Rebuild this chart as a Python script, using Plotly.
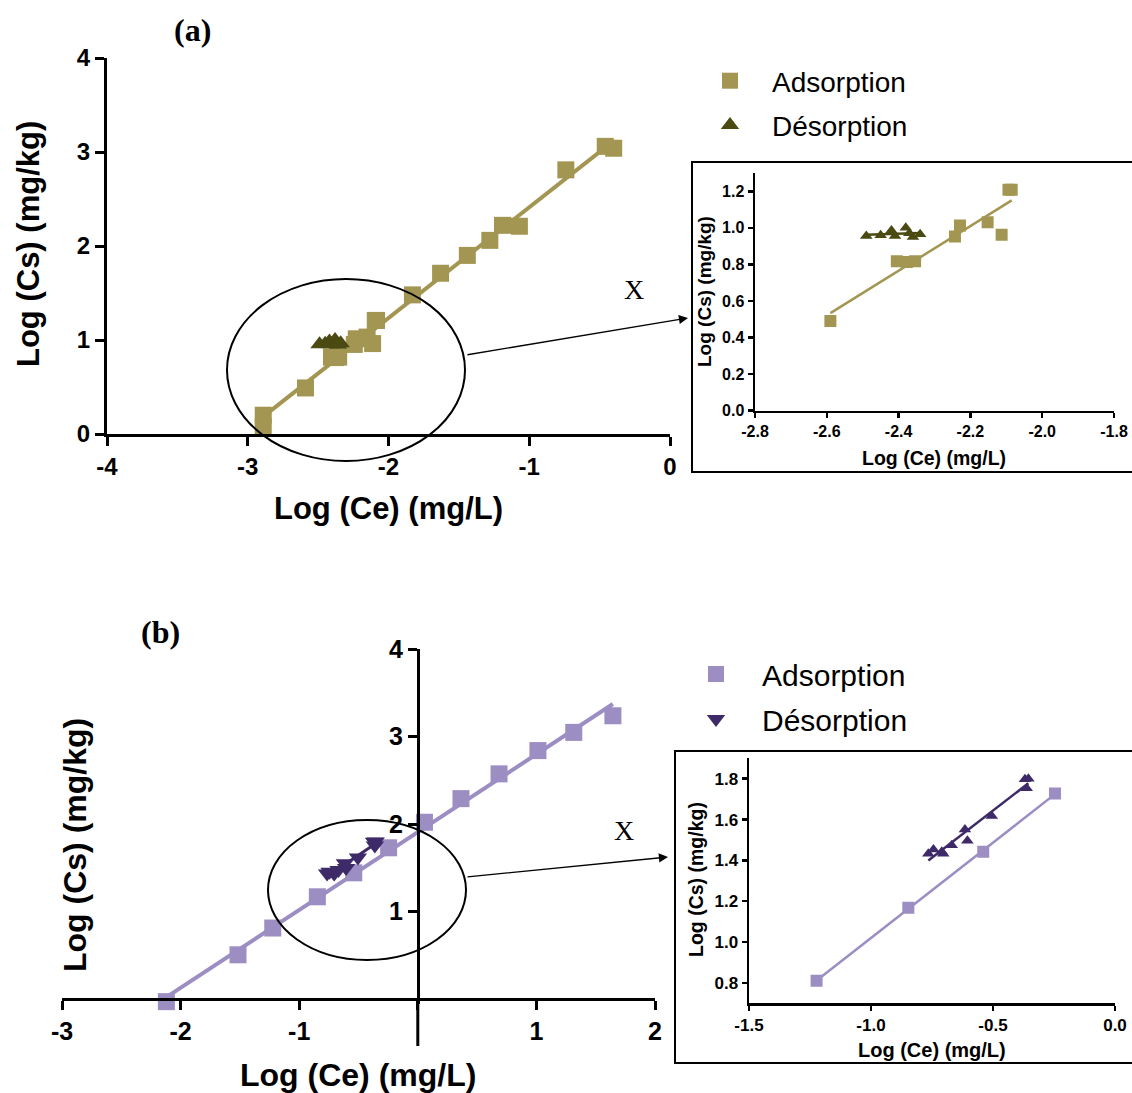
import numpy as np
import plotly.graph_objects as go

W, H = 1132, 1093

# ---------------- data : panel (a) ----------------
ads_a_x = [-2.89, -2.89, -2.59, -2.405, -2.377, -2.354, -2.243, -2.229, -2.152, -2.113,
           -2.094, -2.085, -1.83, -1.63, -1.44, -1.28, -1.19, -1.07, -0.74, -0.46, -0.40]
ads_a_y = [0.20, 0.08, 0.49, 0.818, 0.813, 0.818, 0.953, 1.013, 1.031, 0.962,
           1.208, 1.208, 1.48, 1.71, 1.90, 2.06, 2.22, 2.21, 2.81, 3.06, 3.04]
des_a_x = [-2.49, -2.45, -2.42, -2.41, -2.38, -2.37, -2.36, -2.34]
des_a_y = [0.955, 0.960, 0.985, 0.955, 1.000, 0.970, 0.950, 0.965]

# ---------------- data : panel (b) ----------------
ads_b_x = [-2.12, -1.516, -1.223, -0.847, -0.540, -0.246, 0.056, 0.364, 0.685, 1.013, 1.315, 1.645]
ads_b_y = [-0.03, 0.505, 0.811, 1.168, 1.442, 1.728, 2.02, 2.29, 2.573, 2.839, 3.047, 3.237]
des_b_x = [-0.765, -0.744, -0.710, -0.704, -0.669, -0.615, -0.605, -0.505, -0.369, -0.355, -0.362]
des_b_y = [1.433, 1.453, 1.442, 1.433, 1.474, 1.551, 1.496, 1.617, 1.797, 1.800, 1.753]

# tick values / labels
main_a_xticks = [-4, -3, -2, -1, 0]
main_a_xtext = ["-4", "-3", "-2", "-1", "0"]
main_a_yticks = [0, 1, 2, 3, 4]
main_a_ytext = ["0", "1", "2", "3", "4"]
main_b_xticks = [-3, -2, -1, 0, 1, 2]
main_b_xtext = ["-3", "-2", "-1", "", "1", "2"]
main_b_yticks = [1, 2, 3, 4]
main_b_ytext = ["1", "2", "3", "4"]
ins_a_xticks = [-2.8, -2.6, -2.4, -2.2, -2.0, -1.8]
ins_a_xtext = ["-2.8", "-2.6", "-2.4", "-2.2", "-2.0", "-1.8"]
ins_a_yticks = [0.0, 0.2, 0.4, 0.6, 0.8, 1.0, 1.2]
ins_a_ytext = ["0.0", "0.2", "0.4", "0.6", "0.8", "1.0", "1.2"]
ins_b_xticks = [-1.5, -1.0, -0.5, 0.0]
ins_b_xtext = ["-1.5", "-1.0", "-0.5", "0.0"]
ins_b_yticks = [0.8, 1.0, 1.2, 1.4, 1.6, 1.8]
ins_b_ytext = ["0.8", "1.0", "1.2", "1.4", "1.6", "1.8"]

# ---------------- styles ----------------
C_ADS_A = "#a39652"
C_DES_A = "#4a4a12"
C_ADS_B = "#9c8dc3"
C_DES_B = "#3e2a68"
SANS = "Liberation Sans, Arial, sans-serif"
SERIF = "Liberation Serif, Times New Roman, serif"


def fx(px):
    return px / W


def fy(py):
    return 1 - py / H


def fit(xs, ys, xr=None, yr=None):
    xs = np.asarray(xs, float)
    ys = np.asarray(ys, float)
    m = np.ones_like(xs, bool)
    if xr is not None:
        m &= (xs >= xr[0]) & (xs <= xr[1])
    if yr is not None:
        m &= (ys >= yr[0]) & (ys <= yr[1])
    k, b = np.polyfit(xs[m], ys[m], 1)
    xe = np.array([xs[m].min(), xs[m].max()])
    return xe, k * xe + b


fig = go.Figure()

# ranges
R_A_X, R_A_Y = [-4, 0], [0, 4]
R_B_X, R_B_Y = [-3, 2], [-0.06, 4]
R_IA_X, R_IA_Y = [-2.8, -1.8], [0, 1.3]
R_IB_X, R_IB_Y = [-1.5, 0.0], [0.7, 1.9]

# ---- panel (a) main ----
lx, ly = fit(ads_a_x, ads_a_y)
fig.add_trace(go.Scatter(x=lx, y=ly, mode="lines", line=dict(color=C_ADS_A, width=4),
                         xaxis="x", yaxis="y", showlegend=False, cliponaxis=False))
lx, ly = fit(des_a_x, des_a_y)
fig.add_trace(go.Scatter(x=lx, y=ly, mode="lines", line=dict(color=C_DES_A, width=3),
                         xaxis="x", yaxis="y", showlegend=False, cliponaxis=False))
fig.add_trace(go.Scatter(x=ads_a_x, y=ads_a_y, mode="markers", name="Adsorption",
                         marker=dict(symbol="square", size=17, color=C_ADS_A),
                         xaxis="x", yaxis="y", legend="legend", legendgroup="a1",
                         cliponaxis=False))
fig.add_trace(go.Scatter(x=des_a_x, y=des_a_y, mode="markers", name="Désorption",
                         marker=dict(symbol="triangle-up", size=16, color=C_DES_A),
                         xaxis="x", yaxis="y", legend="legend", legendgroup="a2",
                         cliponaxis=False))

# ---- panel (b) main ----
lx, ly = fit(ads_b_x, ads_b_y)
fig.add_trace(go.Scatter(x=lx, y=ly, mode="lines", line=dict(color=C_ADS_B, width=4),
                         xaxis="x2", yaxis="y2", showlegend=False, cliponaxis=False))
lx, ly = fit(des_b_x, des_b_y)
fig.add_trace(go.Scatter(x=lx, y=ly, mode="lines", line=dict(color=C_DES_B, width=3),
                         xaxis="x2", yaxis="y2", showlegend=False, cliponaxis=False))
fig.add_trace(go.Scatter(x=ads_b_x, y=ads_b_y, mode="markers", name="Adsorption",
                         marker=dict(symbol="square", size=17, color=C_ADS_B),
                         xaxis="x2", yaxis="y2", legend="legend2", legendgroup="b1",
                         cliponaxis=False))
fig.add_trace(go.Scatter(x=des_b_x, y=des_b_y, mode="markers", name="Désorption",
                         marker=dict(symbol="triangle-down", size=16, color=C_DES_B),
                         xaxis="x2", yaxis="y2", legend="legend2", legendgroup="b2",
                         cliponaxis=False))

# ---- inset (a) ----
lx, ly = fit(ads_a_x, ads_a_y, R_IA_X, R_IA_Y)
fig.add_trace(go.Scatter(x=lx, y=ly, mode="lines", line=dict(color=C_ADS_A, width=2.5),
                         xaxis="x3", yaxis="y3", showlegend=False))
lx, ly = fit(des_a_x, des_a_y)
fig.add_trace(go.Scatter(x=lx, y=ly, mode="lines", line=dict(color=C_DES_A, width=2.5),
                         xaxis="x3", yaxis="y3", showlegend=False))
fig.add_trace(go.Scatter(x=ads_a_x, y=ads_a_y, mode="markers",
                         marker=dict(symbol="square", size=12, color=C_ADS_A),
                         xaxis="x3", yaxis="y3", showlegend=False))
fig.add_trace(go.Scatter(x=des_a_x, y=des_a_y, mode="markers",
                         marker=dict(symbol="triangle-up", size=11, color=C_DES_A),
                         xaxis="x3", yaxis="y3", showlegend=False))

# ---- inset (b) ----
lx, ly = fit(ads_b_x, ads_b_y, R_IB_X, R_IB_Y)
fig.add_trace(go.Scatter(x=lx, y=ly, mode="lines", line=dict(color=C_ADS_B, width=2.5),
                         xaxis="x4", yaxis="y4", showlegend=False))
lx, ly = fit(des_b_x, des_b_y)
fig.add_trace(go.Scatter(x=lx, y=ly, mode="lines", line=dict(color=C_DES_B, width=2.5),
                         xaxis="x4", yaxis="y4", showlegend=False))
fig.add_trace(go.Scatter(x=ads_b_x, y=ads_b_y, mode="markers",
                         marker=dict(symbol="square", size=12, color=C_ADS_B),
                         xaxis="x4", yaxis="y4", showlegend=False))
fig.add_trace(go.Scatter(x=des_b_x, y=des_b_y, mode="markers",
                         marker=dict(symbol="triangle-up", size=11, color=C_DES_B),
                         xaxis="x4", yaxis="y4", showlegend=False))


def ax_style(size, lw, tl):
    return dict(showline=True, linecolor="black", linewidth=lw, ticks="outside",
                ticklen=tl, tickwidth=lw, tickcolor="black", showgrid=False,
                zeroline=False, fixedrange=True, automargin=False,
                tickfont=dict(family=SANS, size=size, color="black", weight="bold"))


fig.update_layout(
    template="none",
    width=W, height=H, margin=dict(l=0, r=0, t=0, b=0, pad=0),
    paper_bgcolor="white", plot_bgcolor="rgba(0,0,0,0)",
    xaxis=dict(domain=[fx(107), fx(670)], anchor="y", range=R_A_X,
               tickvals=main_a_xticks, ticktext=main_a_xtext, **ax_style(24, 3, 9)),
    yaxis=dict(domain=[fy(434), fy(58)], anchor="x", range=R_A_Y,
               tickvals=main_a_yticks, ticktext=main_a_ytext, **ax_style(24, 3, 9)),
    xaxis2=dict(domain=[fx(62), fx(655)], anchor="free", position=fy(999), range=R_B_X,
                tickvals=main_b_xticks, ticktext=main_b_xtext, **ax_style(25, 3, 9)),
    yaxis2=dict(domain=[fy(1004.25), fy(649)], anchor="free", position=fx(418), range=R_B_Y,
                tickvals=main_b_yticks, ticktext=main_b_ytext, **ax_style(25, 3, 9)),
    xaxis3=dict(domain=[fx(755), fx(1114)], anchor="y3", range=R_IA_X,
                tickvals=ins_a_xticks, ticktext=ins_a_xtext, **ax_style(16, 2.5, 5)),
    yaxis3=dict(domain=[fy(410.7), fy(173)], anchor="x3", range=R_IA_Y,
                tickvals=ins_a_yticks, ticktext=ins_a_ytext, **ax_style(16, 2.5, 5)),
    xaxis4=dict(domain=[fx(749), fx(1115)], anchor="y4", range=R_IB_X,
                tickvals=ins_b_xticks, ticktext=ins_b_xtext, **ax_style(17, 2.5, 5)),
    yaxis4=dict(domain=[fy(1003.3), fy(758.3)], anchor="x4", range=R_IB_Y,
                tickvals=ins_b_yticks, ticktext=ins_b_ytext, **ax_style(17, 2.5, 5)),
    legend=dict(x=fx(688), y=fy(56), xanchor="left", yanchor="top",
                font=dict(family=SANS, size=28, color="black"),
                bgcolor="rgba(0,0,0,0)", traceorder="grouped", tracegroupgap=5,
                itemwidth=74),
    legend2=dict(x=fx(670), y=fy(648), xanchor="left", yanchor="top",
                 font=dict(family=SANS, size=30, color="black"),
                 bgcolor="rgba(0,0,0,0)", traceorder="grouped", tracegroupgap=3,
                 itemwidth=82),
)

ann = []


def text(px, py, s, size, bold=True, family=SANS, angle=0):
    ann.append(dict(x=fx(px), y=fy(py), xref="paper", yref="paper", text=s,
                    showarrow=False, textangle=angle, xanchor="center", yanchor="middle",
                    font=dict(family=family, size=size, color="black",
                              weight="bold" if bold else "normal")))


# axis titles
text(388, 508, "Log (Ce) (mg/L)", 31)
text(28, 244, "Log (Cs) (mg/kg)", 31, angle=-90)
text(358, 1075, "Log (Ce) (mg/L)", 32)
text(75, 845, "Log (Cs) (mg/kg)", 32, angle=-90)
text(934, 458, "Log (Ce) (mg/L)", 19.5)
text(705, 292, "Log (Cs) (mg/kg)", 19, angle=-90)
text(932, 1050, "Log (Ce) (mg/L)", 20)
text(696, 880, "Log (Cs) (mg/kg)", 19.5, angle=-90)
# panel labels
text(192, 30, "(a)", 32, family=SERIF)
text(160, 632, "(b)", 32, family=SERIF)
text(634, 290, "X", 28, bold=False, family=SERIF)
text(624, 830, "X", 28, bold=False, family=SERIF)

# arrows
for (tx, ty, sx, sy) in [(688, 318, 466, 355), (668, 857, 466, 877)]:
    ann.append(dict(x=fx(tx), y=fy(ty), xref="paper", yref="paper", text="",
                    showarrow=True, ax=sx - tx, ay=sy - ty, axref="pixel", ayref="pixel",
                    arrowhead=2, arrowsize=1.4, arrowwidth=1.3, arrowcolor="black",
                    standoff=0))
fig.update_layout(annotations=ann)

shapes = [
    dict(type="circle", xref="paper", yref="paper", x0=fx(227), x1=fx(465),
         y0=fy(461), y1=fy(279), line=dict(color="black", width=2)),
    dict(type="circle", xref="paper", yref="paper", x0=fx(268), x1=fx(466),
         y0=fy(960), y1=fy(820), line=dict(color="black", width=2)),
    dict(type="rect", xref="paper", yref="paper", x0=fx(692), x1=fx(1140),
         y0=fy(472), y1=fy(162), line=dict(color="black", width=2)),
    dict(type="rect", xref="paper", yref="paper", x0=fx(675), x1=fx(1140),
         y0=fy(1063), y1=fy(751), line=dict(color="black", width=2)),
    # y-axis of panel (b) continues below the x-axis
    dict(type="line", xref="x2", yref="paper", x0=0, x1=0, y0=fy(999), y1=fy(1046),
         line=dict(color="black", width=3)),
]
fig.update_layout(shapes=shapes)

fig.write_html(
    "out.html",
    config={"displayModeBar": False, "staticPlot": True},
    post_script="document.body.style.margin='0px';document.body.style.overflow='hidden';",
)
